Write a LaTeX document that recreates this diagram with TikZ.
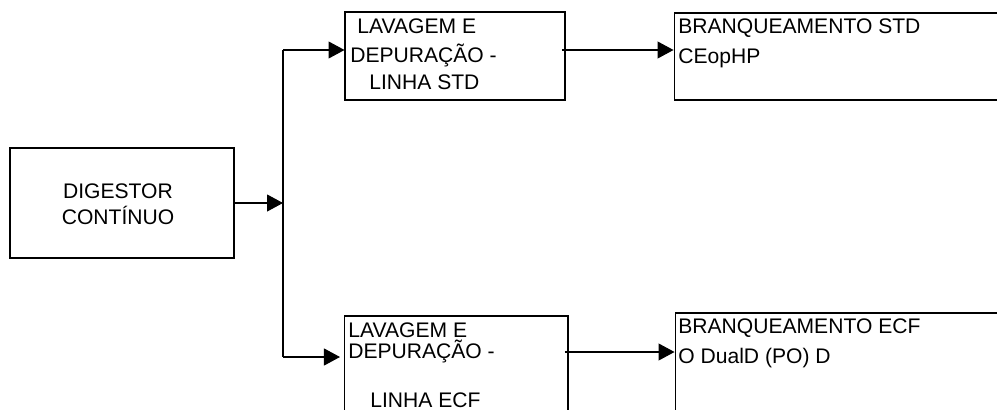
\documentclass[tikz,border=0pt]{standalone}
\usepackage{fontspec}
\setmainfont{Liberation Sans}
\usetikzlibrary{arrows.meta,positioning}

\begin{document}
\begin{tikzpicture}[
		x=0.02cm, y=-0.02cm,
		box/.style={draw, line width=0.6pt, rectangle, inner sep=0pt},
		txt/.style={font=\fontsize{12}{14}\selectfont, inner sep=0pt, anchor=base west},
		ctxt/.style={font=\fontsize{12}{14}\selectfont, inner sep=0pt, anchor=base},
		ln/.style={line width=0.6pt},
		arr/.style={line width=0.6pt, -{Triangle[length=0.32cm, width=0.34cm]}}
		]
		\useasboundingbox (0,0) rectangle (997,409);
		% blocks
		\node[box, minimum width=4.48cm, minimum height=2.2cm] (dig) at (122,203) {};
		\node[box, minimum width=4.4cm, minimum height=1.76cm] (lavstd) at (455,56) {};
		\node[box, minimum width=6.8cm, minimum height=1.74cm] (brstd) at (844,56.5) {};
		\node[box, minimum width=4.48cm, minimum height=2.08cm] (lavecf) at (456,368) {};
		\node[box, minimum width=6.8cm, minimum height=2.14cm] (brecf) at (845,366.5) {};
		% texts
		\node[ctxt] (dig1) at (118,198) {DIGESTOR};
		\node[ctxt] (dig2) at (118,224) {CONTÍNUO};
		\node[txt] (ls1) at (357,33) {LAVAGEM E};
		\node[txt] (ls2) at (350,62) {DEPURAÇÃO -};
		\node[txt] (ls3) at (369,89) {LINHA STD};
		\node[txt] (le1) at (348,337) {LAVAGEM E};
		\node[txt] (le2) at (348,358) {DEPURAÇÃO -};
		\node[txt] (le3) at (370,407) {LINHA ECF};
		\node[txt] (bs1) at (678,33) {BRANQUEAMENTO STD};
		\node[txt] (bs2) at (678,63) {CEopHP};
		\node[txt] (be1) at (678,333) {BRANQUEAMENTO ECF};
		\node[txt] (be2) at (678,363) {O DualD (PO) D};
		% connectors
		\coordinate (jm) at (283,203);
		\coordinate (jt) at (283,50);
		\coordinate (jb) at (283,357);
		\coordinate (recf) at (0,352);
		\draw[arr] (dig.east |- jm) -- (jm);
		\draw[ln] (jt) -- (jb);
		\draw[arr] (jt) -- (lavstd.west |- jt);
		\draw[arr] (jb) -- ([xshift=-2]lavecf.west |- jb);
		\draw[arr] ([xshift=-2]lavstd.east |- jt) -- (brstd.west |- jt);
		\draw[arr] ([xshift=-2]lavecf.east |- recf) -- (brecf.west |- recf);
	\end{tikzpicture}
\end{document}
